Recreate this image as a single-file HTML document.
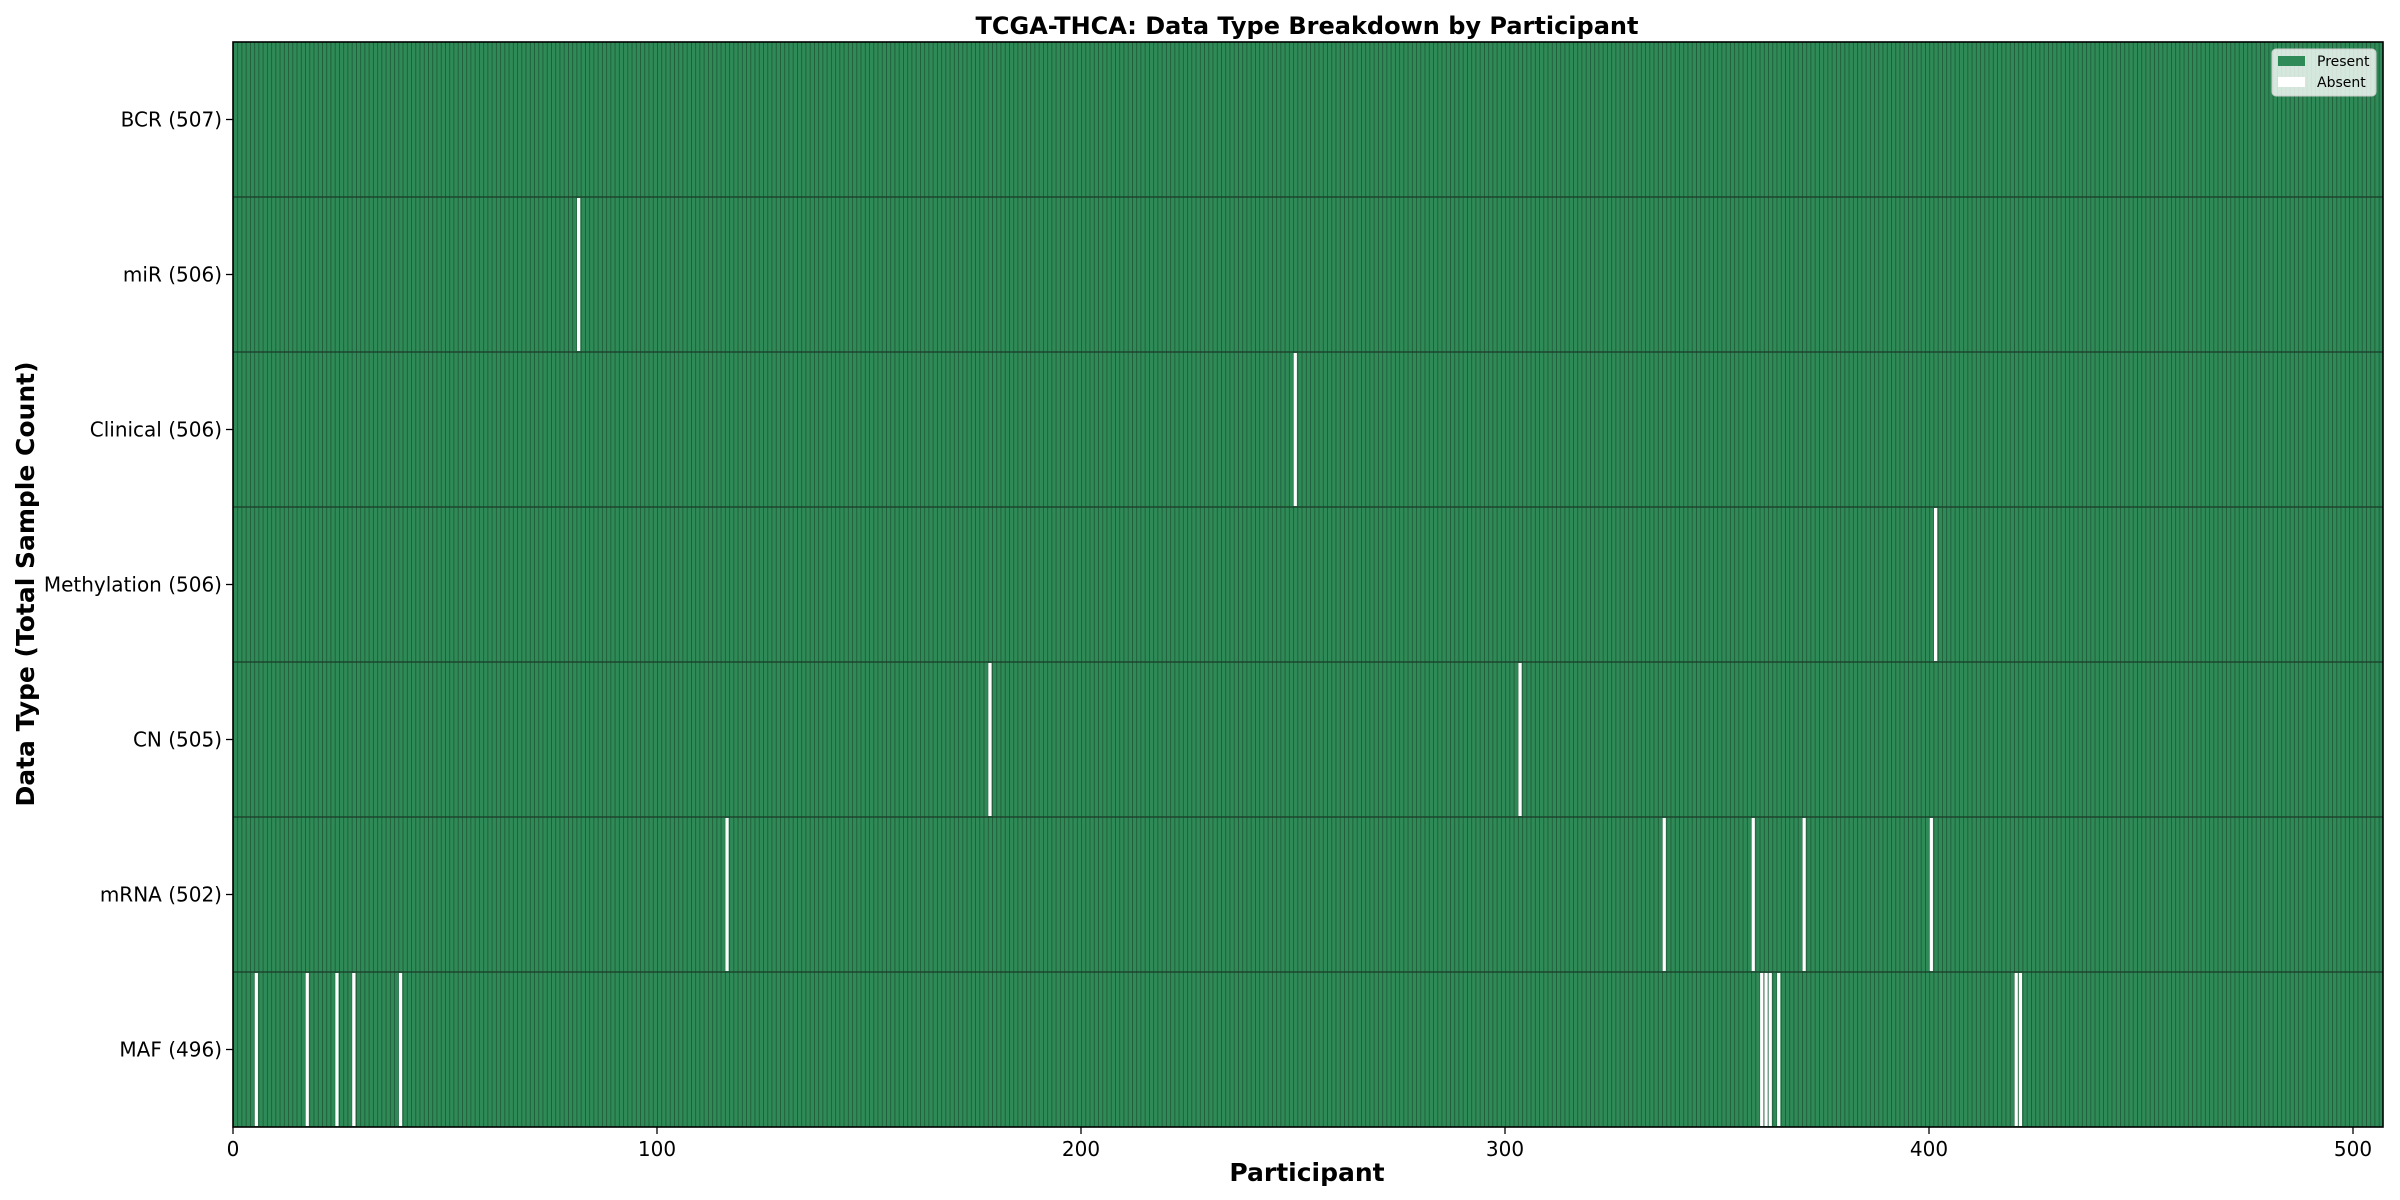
<!DOCTYPE html>
<html><head><meta charset="utf-8"><style>html,body{margin:0;padding:0;background:#fff}svg{display:block}</style></head>
<body>
<svg width="2400" height="1200" viewBox="0 0 2400 1200" xmlns="http://www.w3.org/2000/svg" font-family="'DejaVu Sans','Liberation Sans',sans-serif">
<defs>
<pattern id="p" patternUnits="userSpaceOnUse" x="233" y="0" width="4.2406" height="20">
<rect width="4.2406" height="20" fill="#2e8b57"/>
<rect x="0" y="0" width="0.8" height="20" fill="#1c4a2f" opacity="0.85"/>
</pattern>
</defs>
<rect x="233" y="42" width="2150" height="1085" fill="url(#p)"/>
<g stroke="#1c3a28" stroke-width="1.2">
<line x1="233" x2="2383" y1="197" y2="197"/><line x1="233" x2="2383" y1="352" y2="352"/>
<line x1="233" x2="2383" y1="507" y2="507"/><line x1="233" x2="2383" y1="662" y2="662"/>
<line x1="233" x2="2383" y1="817" y2="817"/><line x1="233" x2="2383" y1="972" y2="972"/>
</g>
<g fill="#fff">
<rect x="577.0" y="198" width="3.24" height="153"/>
<rect x="1293.65" y="353" width="3.24" height="153"/>
<rect x="1934.0" y="508" width="3.24" height="153"/>
<rect x="988.3" y="663" width="3.24" height="153"/>
<rect x="1518.4" y="663" width="3.24" height="153"/>
<rect x="725.4" y="818" width="3.24" height="153"/>
<rect x="1662.6" y="818" width="3.24" height="153"/>
<rect x="1751.6" y="818" width="3.24" height="153"/>
<rect x="1802.5" y="818" width="3.24" height="153"/>
<rect x="1929.7" y="818" width="3.24" height="153"/>
<rect x="254.7" y="973" width="3.24" height="153"/>
<rect x="305.6" y="973" width="3.24" height="153"/>
<rect x="335.3" y="973" width="3.24" height="153"/>
<rect x="352.2" y="973" width="3.24" height="153"/>
<rect x="398.9" y="973" width="3.24" height="153"/>
<rect x="1760.1" y="973" width="3.24" height="153"/>
<rect x="1764.4" y="973" width="3.24" height="153"/>
<rect x="1768.6" y="973" width="3.24" height="153"/>
<rect x="1777.1" y="973" width="3.24" height="153"/>
<rect x="2014.55" y="973" width="3.24" height="153"/>
<rect x="2018.8" y="973" width="3.24" height="153"/>
</g>
<rect x="233" y="42" width="2150" height="1085" fill="none" stroke="#000" stroke-width="1.6"/>
<!-- y ticks -->
<g stroke="#000" stroke-width="1.3">
<line x1="226" x2="233" y1="119.5" y2="119.5"/><line x1="226" x2="233" y1="274.5" y2="274.5"/>
<line x1="226" x2="233" y1="429.5" y2="429.5"/><line x1="226" x2="233" y1="584.5" y2="584.5"/>
<line x1="226" x2="233" y1="739.5" y2="739.5"/><line x1="226" x2="233" y1="894.5" y2="894.5"/>
<line x1="226" x2="233" y1="1049.5" y2="1049.5"/>
<line x1="233" x2="233" y1="1127" y2="1134"/><line x1="657" x2="657" y1="1127" y2="1134"/>
<line x1="1081" x2="1081" y1="1127" y2="1134"/><line x1="1505" x2="1505" y1="1127" y2="1134"/>
<line x1="1929" x2="1929" y1="1127" y2="1134"/><line x1="2353" x2="2353" y1="1127" y2="1134"/>
</g>
<g font-size="20" fill="#000" text-anchor="end">
<text x="222" y="126.5">BCR (507)</text>
<text x="222" y="281.5">miR (506)</text>
<text x="222" y="436.5">Clinical (506)</text>
<text x="222" y="591.5">Methylation (506)</text>
<text x="222" y="746.5">CN (505)</text>
<text x="222" y="901.5">mRNA (502)</text>
<text x="222" y="1056.5">MAF (496)</text>
</g>
<g font-size="20" fill="#000" text-anchor="middle">
<text x="233" y="1156">0</text><text x="657" y="1156">100</text><text x="1081" y="1156">200</text>
<text x="1505" y="1156">300</text><text x="1929" y="1156">400</text><text x="2353" y="1156">500</text>
</g>
<text x="1307" y="1181" font-size="25" font-weight="bold" text-anchor="middle">Participant</text>
<text transform="translate(34,584) rotate(-90)" font-size="25" font-weight="bold" text-anchor="middle">Data Type (Total Sample Count)</text>
<text x="1307" y="34" font-size="24" font-weight="bold" text-anchor="middle">TCGA-THCA: Data Type Breakdown by Participant</text>
<!-- legend -->
<rect x="2272" y="49" width="104" height="47" rx="4" fill="#fff" fill-opacity="0.8" stroke="#ccc" stroke-width="1"/>
<rect x="2278" y="56" width="27" height="10" fill="#2e8b57"/>
<rect x="2278" y="77" width="27" height="10" fill="#fff"/>
<g font-size="14" fill="#000">
<text x="2317" y="66">Present</text>
<text x="2317" y="87">Absent</text>
</g>
</svg>
</body></html>
